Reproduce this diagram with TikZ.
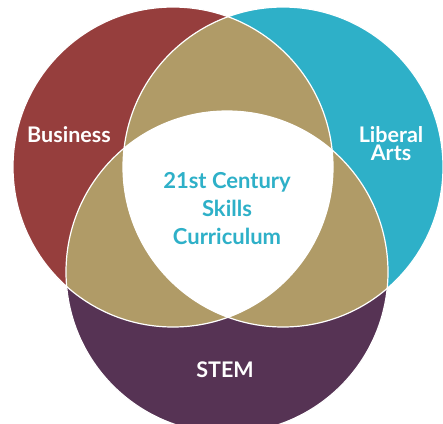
\documentclass[tikz,border=0pt]{standalone}
\usepackage{fontspec}
\setmainfont{Lato}
\definecolor{business}{RGB}{150,62,61}
\definecolor{liberal}{RGB}{46,176,200}
\definecolor{stem}{RGB}{86,51,84}
\definecolor{overlap}{RGB}{176,155,103}
\begin{document}
\begin{tikzpicture}[x=1pt,y=-1pt,
  setlabel/.style={text=white,font=\bfseries\fontsize{21.5}{18}\selectfont,align=center,inner sep=0pt},
  corelabel/.style={text=liberal,font=\bfseries\fontsize{22}{28}\selectfont,align=center,inner sep=0pt},
  rim/.style={draw=white,line width=1.2pt}]
\useasboundingbox (0,0) rectangle (443,423);
\clip (0,0) rectangle (443,423);
% circle centres
\coordinate (cb) at (173,167);
\coordinate (cl) at (283,167);
\coordinate (cs) at (227,272);
\def\rbus{160pt}\def\rlib{160pt}\def\rstem{161pt}
% the three sets
\fill[business] (cb) circle[radius=\rbus];
\fill[liberal] (cl) circle[radius=\rlib];
\fill[stem] (cs) circle[radius=\rstem];
% pairwise overlaps
\begin{scope}
  \clip (cb) circle[radius=\rbus];
  \fill[overlap] (cl) circle[radius=\rlib];
  \fill[overlap] (cs) circle[radius=\rstem];
\end{scope}
\begin{scope}
  \clip (cl) circle[radius=\rlib];
  \fill[overlap] (cs) circle[radius=\rstem];
\end{scope}
% common core
\begin{scope}
  \clip (cb) circle[radius=\rbus];
  \clip (cl) circle[radius=\rlib];
  \fill[white] (cs) circle[radius=\rstem];
\end{scope}
% white rims
\draw[rim] (cb) circle[radius=\rbus];
\draw[rim] (cl) circle[radius=\rlib];
\draw[rim] (cs) circle[radius=\rstem];
% labels
\node[setlabel] (business) at (69,135) {Business};
\node[setlabel] (liberal) at (391,144) {Liberal\\Arts};
\node[setlabel] (stem) at (225,370) {STEM};
\node[corelabel] (core) at (227,209) {21st Century\\Skills\\Curriculum};
\end{tikzpicture}
\end{document}
